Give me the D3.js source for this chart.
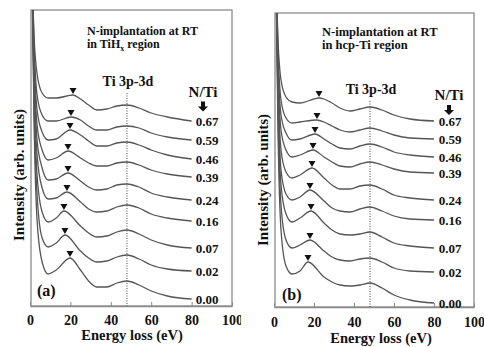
<!DOCTYPE html>
<html>
<head>
<meta charset="utf-8">
<script src="https://cdn.jsdelivr.net/npm/d3@7"></script>
<style>
  body { margin: 0; background: #fff; }
  text { font-family: "Liberation Serif", "Times New Roman", serif; font-weight: bold; fill: #111; }
</style>
</head>
<body>
<svg id="chart" width="484" height="347"></svg>
<script>
// N/Ti ratio of each spectrum, top to bottom
const ratios = ["0.67", "0.59", "0.46", "0.39", "0.24", "0.16", "0.07", "0.02", "0.00"];
const xTicks = [0, 20, 40, 60, 80, 100];
const energyGrid = [1, 2, 3.5, 6, 9, 13, 25, 29, 33, 38, 43, 48, 54, 60, 68, 80];
const tiPeakEV = 48;

// (a) TiHx region, intensity (arb. units) on energyGrid
const intensityA = [
  [330, 270, 232, 213, 208, 208, 207, 201, 196, 197, 200, 201, 198, 193, 189, 185],
  [330, 261, 211, 191, 185, 185, 186, 180, 176, 176, 179, 180, 178, 173, 169, 166],
  [330, 251, 196, 174, 166, 167, 171, 165, 160, 160, 163, 164, 161, 156, 151, 147],
  [330, 241, 181, 156, 146, 148, 148, 143, 140, 140, 143, 144, 141, 136, 132, 129],
  [330, 231, 166, 138, 126, 127, 125, 119, 116, 117, 121, 122, 119, 113, 109, 106],
  [330, 221, 151, 118, 107, 108, 104,  97,  94,  95,  99, 101,  98,  92,  88,  85],
  [330, 211, 131,  94,  84,  88,  80,  73,  69,  70,  74,  76,  72,  66,  61,  58],
  [330, 201, 111,  68,  59,  63,  55,  48,  44,  45,  49,  51,  47,  41,  37,  35],
  [330, 186,  86,  44,  32,  36,  36,  25,  19,  19,  23,  25,  21,  15,  10,   7]
];
// plasmon peak (marked by triangle): [eV, intensity]
const plasmonA = [[21.3, 211], [20.3, 189], [19.8, 176], [18.8, 155], [18.8, 133],
                  [18.3, 114], [16.8, 95], [17.3, 71], [19.8, 48]];

// (b) hcp-Ti region
const intensityB = [
  [330, 267, 227, 210, 205, 204, 208, 204, 199, 196, 198, 200, 197, 192, 188, 186],
  [330, 257, 207, 189, 184, 185, 185, 181, 177, 175, 177, 179, 176, 172, 169, 168],
  [330, 247, 192, 174, 167, 168, 168, 163, 159, 158, 161, 163, 160, 155, 152, 150],
  [330, 237, 177, 157, 150, 152, 150, 145, 141, 140, 143, 145, 142, 138, 135, 134],
  [330, 227, 157, 135, 129, 132, 129, 122, 118, 118, 121, 122, 118, 112, 109, 107],
  [330, 217, 137, 113, 107, 110, 106,  99,  96,  95,  98, 100,  96,  91,  88,  87],
  [330, 207, 122,  93,  85,  89,  84,  77,  73,  72,  73,  75,  70,  64,  61,  59],
  [330, 192, 102,  67,  59,  62,  56,  50,  47,  46,  48,  49,  45,  39,  36,  35],
  [330, 177,  77,  41,  33,  36,  30,  25,  22,  21,  22,  24,  19,  12,   7,   4]
];
const plasmonB = [[22.5, 209], [21.5, 187], [20.5, 173], [19.5, 157], [19, 139],
                  [18, 117], [18.5, 96], [18, 67], [17, 45]];

const svg = d3.select("#chart");
const curveColor = "#555";

const panels = [
  { id: "a", left: 30, right: 232, top: 10, bottom: 306, yMax: 296, clipW: 241,
    intensity: intensityA, plasmon: plasmonA, tag: "(a)",
    head1: "N-implantation  at RT", head2: ["in TiH", "x", " region"], headX: 87, headY: 34.5, headSize: 12,
    tiY: 86, ntiX: 203, ntiY: 96.5, valX: 207, yLabX: 24, yLabY: 175, tickPad: 9.5, titleX: 132, titleY: 340, tagX: 37, tagY: 296 },
  { id: "b", left: 274, right: 474, top: 13, bottom: 307, yMax: 294, clipW: 484,
    intensity: intensityB, plasmon: plasmonB, tag: "(b)",
    head1: "N-implantation at RT", head2: ["in hcp-Ti region"], headX: 322, headY: 35.5, headSize: 12.5,
    tiY: 94, ntiX: 449, ntiY: 100, valX: 450, yLabX: 268, yLabY: 180, tickPad: 10, titleX: 381, titleY: 343, tagX: 282, tagY: 300 }
];

panels.forEach(function(p) {
  const x = d3.scaleLinear().domain([0, 100]).range([p.left, p.right]);
  const y = d3.scaleLinear().domain([0, p.yMax]).range([p.bottom, p.top]);

  const defs = svg.append("defs");
  defs.append("clipPath").attr("id", "clipAll" + p.id)
    .append("rect").attr("x", p.left - 40).attr("y", 0).attr("width", p.clipW - p.left + 40).attr("height", 347);
  defs.append("clipPath").attr("id", "clipPlot" + p.id)
    .append("rect").attr("x", p.left).attr("y", p.top).attr("width", p.right - p.left).attr("height", p.bottom - p.top);

  const g = svg.append("g").attr("clip-path", "url(#clipAll" + p.id + ")");

  // frame
  g.append("rect")
    .attr("x", p.left + 1).attr("y", p.top)
    .attr("width", p.right - p.left - 1).attr("height", p.bottom - p.top)
    .attr("fill", "none").attr("stroke", "#9a9a9a").attr("stroke-width", 1.5);

  // x axis
  const ax = g.append("g")
    .attr("transform", "translate(0," + p.bottom + ")")
    .call(d3.axisBottom(x).tickValues(xTicks).tickSize(-4).tickSizeOuter(0).tickPadding(p.tickPad));
  ax.attr("font-family", null);
  ax.select(".domain").attr("stroke", "#8a8a8a").attr("stroke-width", 1.5);
  ax.selectAll(".tick line").attr("stroke", "#8a8a8a");
  ax.selectAll(".tick text")
    .style("font-family", "'Liberation Serif', serif").style("font-weight", "bold")
    .style("font-size", "14px").attr("fill", "#111");

  // Ti 3p-3d dotted line
  g.append("line")
    .attr("x1", x(tiPeakEV)).attr("x2", x(tiPeakEV))
    .attr("y1", p.tiY + 7).attr("y2", p.bottom)
    .attr("stroke", "#444").attr("stroke-width", 1).attr("stroke-dasharray", "1,1.5");

  // spectra
  const line = d3.line()
    .x(function(d) { return x(d[0]); })
    .y(function(d) { return y(d[1]); })
    .curve(d3.curveMonotoneX);

  const series = p.intensity.map(function(vals, i) {
    const pts = energyGrid.map(function(e, j) { return [e, vals[j]]; });
    pts.push(p.plasmon[i]);
    pts.sort(function(a, b) { return a[0] - b[0]; });
    return pts;
  });

  g.append("g").attr("clip-path", "url(#clipPlot" + p.id + ")")
    .selectAll("path")
    .data(series)
    .enter()
    .append("path")
    .attr("d", line)
    .attr("fill", "none")
    .attr("stroke", curveColor)
    .attr("stroke-width", 1.3);

  // plasmon markers
  g.append("g").selectAll("path")
    .data(p.plasmon)
    .enter()
    .append("path")
    .attr("d", function(d) {
      const cx = x(d[0]), ty = y(d[1]) - 1;
      return "M" + (cx - 3.5) + "," + (ty - 6) + "L" + (cx + 3.5) + "," + (ty - 6) + "L" + cx + "," + ty + "Z";
    })
    .attr("fill", "#111");

  // N/Ti values at the end of each spectrum
  g.append("g").selectAll("text")
    .data(p.intensity)
    .enter()
    .append("text")
    .attr("x", p.valX)
    .attr("y", function(d) { return y(d[d.length - 1]); })
    .attr("dy", "0.35em")
    .attr("text-anchor", "middle")
    .style("font-size", "13px")
    .text(function(d, i) { return ratios[i]; });

  // labels
  g.append("text").attr("x", x(tiPeakEV) + 1).attr("y", p.tiY)
    .attr("text-anchor", "middle").style("font-size", "14px").text("Ti 3p-3d");
  g.append("text").attr("x", p.ntiX).attr("y", p.ntiY)
    .attr("text-anchor", "middle").style("font-size", "15px").text("N/Ti");
  g.append("path")
    .attr("d", "M" + (p.ntiX - 2) + "," + (p.ntiY + 5) + "h4v5h3l-5,5l-5,-5h3z")
    .attr("fill", "#111");

  g.append("text").attr("x", p.headX).attr("y", p.headY)
    .style("font-size", p.headSize + "px").text(p.head1);
  const h2 = g.append("text").attr("x", p.headX).attr("y", p.headY + 13.5)
    .style("font-size", p.headSize + "px");
  h2.append("tspan").text(p.head2[0]);
  if (p.head2.length > 1) {
    h2.append("tspan").attr("dy", 3).style("font-size", "8px").text(p.head2[1]);
    h2.append("tspan").attr("dy", -3).text(p.head2[2]);
  }

  g.append("text").attr("x", p.tagX).attr("y", p.tagY)
    .style("font-size", "16px").text(p.tag);

  g.append("text")
    .attr("transform", "translate(" + p.yLabX + "," + p.yLabY + ")rotate(-90)")
    .attr("text-anchor", "middle").style("font-size", "15px")
    .text("Intensity (arb. units)");

  g.append("text").attr("x", p.titleX).attr("y", p.titleY)
    .attr("text-anchor", "middle").style("font-size", "14.5px")
    .text("Energy loss (eV)");
});
</script>
</body>
</html>
